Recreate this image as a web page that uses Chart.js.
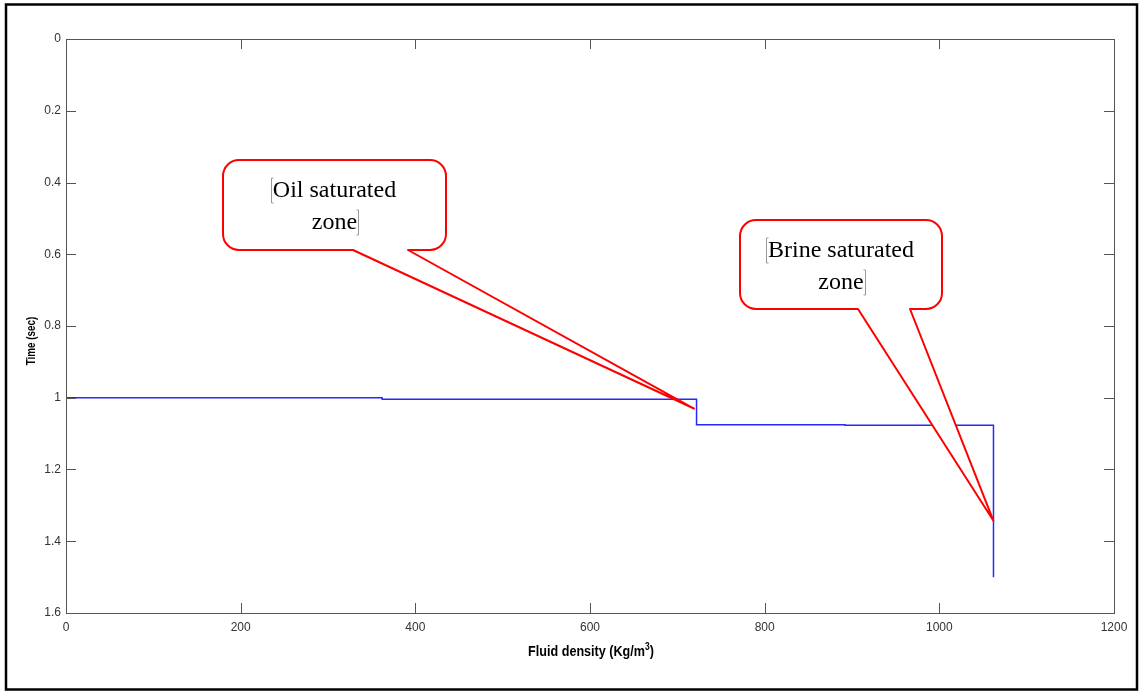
<!DOCTYPE html>
<html>
<head>
<meta charset="utf-8">
<script src="https://cdn.jsdelivr.net/npm/chart.js@4.4.1/dist/chart.umd.min.js"></script>
<style>
    body { margin: 0; background: #fff; }
    #wrap { width: 1139px; height: 691px; }
</style>
</head>
<body>
<div id="wrap"><canvas id="myChart" width="1139" height="691"></canvas></div>
<script>
// corners of the fluid density log
const densityX = [0, 362, 362, 722, 722, 892, 892, 1062, 1062];
const timeY = [1.0, 1.0, 1.004, 1.004, 1.075, 1.075, 1.077, 1.077, 1.5];

const xTicks = [0, 200, 400, 600, 800, 1000, 1200];
const yTicks = [0, 0.2, 0.4, 0.6, 0.8, 1, 1.2, 1.4, 1.6];

const xTitle = 'Fluid density (Kg/m';
const xTitleSup = '3';
const yTitle = 'Time (sec)';

// callouts: text lines + where the pointer tip lands (data units)
const calloutText = [["Oil saturated", "zone"], ["Brine saturated", "zone"]];
const calloutTipX = [719, 1062];
const calloutTipY = [1.03, 1.343];

let pontos = [];
for (let i = 0; i < densityX.length; i++) {
    pontos.push({ x: densityX[i], y: timeY[i] });
}

// box + inward ticks + axis titles, matlab style
const eixosPlugin = {
    id: 'eixos',
    beforeDraw(chart) {
        const ctx = chart.ctx;
        ctx.save();
        ctx.fillStyle = '#fff';
        ctx.fillRect(0, 0, chart.width, chart.height);
        ctx.strokeStyle = '#000';
        ctx.lineWidth = 2.5;
        ctx.strokeRect(6, 4.5, 1131, 685);
        ctx.restore();
    },
    afterDraw(chart) {
        const ctx = chart.ctx;
        const a = chart.chartArea;
        const x = chart.scales.x, y = chart.scales.y;
        const len = 10;
        ctx.save();
        ctx.strokeStyle = '#555';
        ctx.lineWidth = 1;
        ctx.beginPath();
        for (let v of xTicks) {
            let px = Math.round(x.getPixelForValue(v)) + 0.5;
            ctx.moveTo(px, a.bottom); ctx.lineTo(px, a.bottom - len);
            ctx.moveTo(px, a.top); ctx.lineTo(px, a.top + len);
        }
        for (let v of yTicks) {
            let py = Math.round(y.getPixelForValue(v)) + 0.5;
            ctx.moveTo(a.left, py); ctx.lineTo(a.left + len, py);
            ctx.moveTo(a.right, py); ctx.lineTo(a.right - len, py);
        }
        ctx.stroke();
        ctx.strokeRect(Math.round(a.left) + 0.5, Math.round(a.top) + 0.5,
            Math.round(a.right - a.left), Math.round(a.bottom - a.top));

        // titles, a bit condensed like the original
        ctx.fillStyle = '#000';
        ctx.textBaseline = 'middle';
        ctx.save();
        ctx.translate((a.left + a.right) / 2 + 1, 652);
        ctx.scale(0.84, 1);
        ctx.font = 'bold 15px Arial, "Liberation Sans", sans-serif';
        const wMain = ctx.measureText(xTitle).width;
        ctx.font = 'bold 10px Arial, "Liberation Sans", sans-serif';
        const wSup = ctx.measureText(xTitleSup).width;
        ctx.font = 'bold 15px Arial, "Liberation Sans", sans-serif';
        const wEnd = ctx.measureText(')').width;
        let sx = -(wMain + wSup + wEnd) / 2;
        ctx.textAlign = 'left';
        ctx.fillText(xTitle, sx, 0);
        ctx.font = 'bold 10px Arial, "Liberation Sans", sans-serif';
        ctx.fillText(xTitleSup, sx + wMain, -5);
        ctx.font = 'bold 15px Arial, "Liberation Sans", sans-serif';
        ctx.fillText(')', sx + wMain + wSup, 0);
        ctx.restore();

        ctx.save();
        ctx.translate(31, 341);
        ctx.rotate(-Math.PI / 2);
        ctx.scale(0.76, 1);
        ctx.font = 'bold 13px Arial, "Liberation Sans", sans-serif';
        ctx.textAlign = 'center';
        ctx.fillText(yTitle, 0, 0);
        ctx.restore();
        ctx.restore();
    }
};

// red rounded speech boxes
const caixas = [
    { left: 223, top: 160, right: 446, bottom: 250, baseL: 353, baseR: 408 },
    { left: 740, top: 220, right: 942, bottom: 309, baseL: 858, baseR: 910 }
];

const calloutPlugin = {
    id: 'callouts',
    afterDraw(chart) {
        const ctx = chart.ctx;
        const x = chart.scales.x, y = chart.scales.y;
        for (let i = 0; i < caixas.length; i++) {
            const c = caixas[i];
            const r = 16;
            const tx = x.getPixelForValue(calloutTipX[i]);
            const ty = y.getPixelForValue(calloutTipY[i]);
            ctx.save();
            ctx.beginPath();
            ctx.moveTo(c.left + r, c.top);
            ctx.lineTo(c.right - r, c.top);
            ctx.arcTo(c.right, c.top, c.right, c.top + r, r);
            ctx.lineTo(c.right, c.bottom - r);
            ctx.arcTo(c.right, c.bottom, c.right - r, c.bottom, r);
            ctx.lineTo(c.baseR, c.bottom);
            ctx.lineTo(tx, ty);
            ctx.lineTo(c.baseL, c.bottom);
            ctx.lineTo(c.left + r, c.bottom);
            ctx.arcTo(c.left, c.bottom, c.left, c.bottom - r, r);
            ctx.lineTo(c.left, c.top + r);
            ctx.arcTo(c.left, c.top, c.left + r, c.top, r);
            ctx.closePath();
            ctx.fillStyle = '#fff';
            ctx.fill();
            ctx.strokeStyle = '#ff0000';
            ctx.lineWidth = 2;
            ctx.lineJoin = 'round';
            ctx.stroke();

            // text
            const cx = (c.left + c.right) / 2;
            const linhas = calloutText[i];
            ctx.font = '24px "Liberation Serif", "Times New Roman", serif';
            ctx.fillStyle = '#000';
            ctx.textAlign = 'center';
            ctx.textBaseline = 'middle';
            const y1 = c.top + 31, y2 = c.top + 63;
            ctx.fillText(linhas[0], cx, y1);
            ctx.fillText(linhas[1], cx, y2);

            // grey text-frame marks
            const w1 = ctx.measureText(linhas[0]).width;
            const w2 = ctx.measureText(linhas[1]).width;
            ctx.strokeStyle = '#999';
            ctx.lineWidth = 1;
            ctx.beginPath();
            let mx = Math.round(cx - w1 / 2) - 1.5;
            ctx.moveTo(mx, y1 - 13); ctx.lineTo(mx, y1 + 12);
            ctx.moveTo(mx, y1 - 13); ctx.lineTo(mx + 2, y1 - 13);
            ctx.moveTo(mx, y1 + 12); ctx.lineTo(mx + 2, y1 + 12);
            mx = Math.round(cx + w2 / 2) + 1.5;
            ctx.moveTo(mx, y2 - 13); ctx.lineTo(mx, y2 + 12);
            ctx.moveTo(mx, y2 - 13); ctx.lineTo(mx - 2, y2 - 13);
            ctx.moveTo(mx, y2 + 12); ctx.lineTo(mx - 2, y2 + 12);
            ctx.stroke();
            ctx.restore();
        }
    }
};

const fonteTick = { family: 'Arial, "Liberation Sans", sans-serif', size: 12 };

const myChart = new Chart(document.getElementById('myChart'), {
    type: 'scatter',
    data: {
        datasets: [{
            data: pontos,
            showLine: true,
            borderColor: 'rgb(40,40,255)',
            borderWidth: 1.5,
            pointRadius: 0,
            fill: false
        }]
    },
    options: {
        responsive: false,
        animation: false,
        layout: { padding: { left: 14, top: 39, right: 25, bottom: 28 } },
        plugins: {
            legend: { display: false },
            tooltip: { enabled: false }
        },
        scales: {
            x: {
                type: 'linear',
                min: 0,
                max: 1200,
                afterFit: (s) => { s.height = 50; },
                afterBuildTicks: (s) => { s.ticks = xTicks.map(v => ({ value: v })); },
                grid: { display: false, drawTicks: false },
                border: { display: false },
                ticks: {
                    padding: 7,
                    color: '#333',
                    font: fonteTick,
                    maxRotation: 0,
                    callback: (v) => String(v)
                }
            },
            y: {
                type: 'linear',
                min: 0,
                max: 1.6,
                reverse: true,
                afterFit: (s) => { s.width = 52; },
                afterBuildTicks: (s) => { s.ticks = yTicks.map(v => ({ value: v })); },
                grid: { display: false, drawTicks: false },
                border: { display: false },
                ticks: {
                    padding: 5,
                    color: '#333',
                    font: fonteTick,
                    callback: (v) => String(+v.toFixed(1))
                }
            }
        }
    },
    plugins: [eixosPlugin, calloutPlugin]
});
</script>
</body>
</html>
